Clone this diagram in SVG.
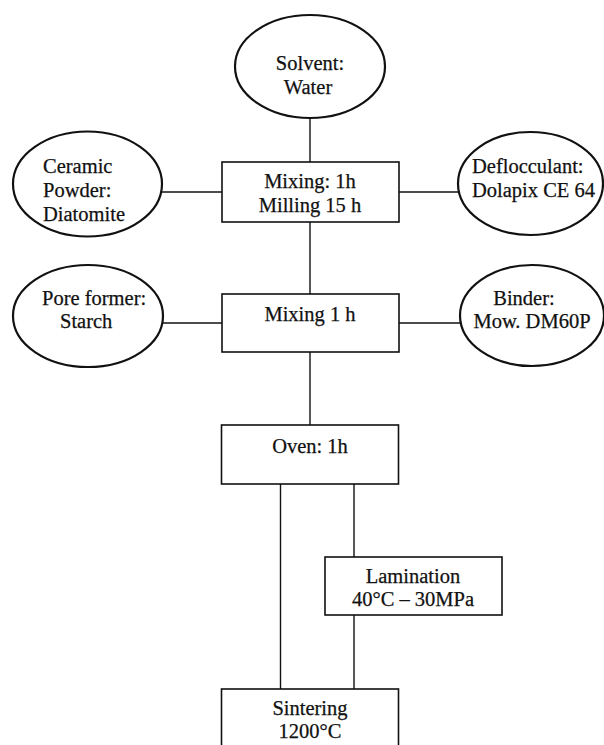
<svg xmlns="http://www.w3.org/2000/svg" width="604" height="745" viewBox="0 0 604 745">
<style>
.ell{fill:#fff;stroke:#111;stroke-width:2.2}
.box{fill:#fff;stroke:#111;stroke-width:1.6}
.ln{stroke:#111;stroke-width:1.4;fill:none}
text{font-family:"Liberation Serif","Times New Roman",serif;font-size:20.5px;fill:#111;stroke:#111;stroke-width:0.25}
.c{text-anchor:middle}
</style>
<rect width="604" height="745" fill="#fff"/>
<g id="connectors">
<line class="ln" x1="310" y1="118" x2="310" y2="162"/>
<line class="ln" x1="162" y1="192" x2="222" y2="192"/>
<line class="ln" x1="399" y1="192" x2="458" y2="192"/>
<line class="ln" x1="310" y1="222" x2="310" y2="294"/>
<line class="ln" x1="163" y1="323" x2="222" y2="323"/>
<line class="ln" x1="399" y1="323" x2="460" y2="323"/>
<line class="ln" x1="310" y1="352" x2="310" y2="425"/>
<line class="ln" x1="280.5" y1="484" x2="280.5" y2="689"/>
<line class="ln" x1="354" y1="484" x2="354" y2="557"/>
<line class="ln" x1="354" y1="615" x2="354" y2="689"/>
</g>
<g id="solvent">
<ellipse class="ell" cx="310" cy="66.5" rx="75" ry="51.5"/>
<text class="c" x="310" y="70">Solvent:</text>
<text class="c" x="308" y="94">Water</text>
</g>
<g id="ceramic">
<ellipse class="ell" cx="87.5" cy="184" rx="74.5" ry="52.5"/>
<text x="43" y="173">Ceramic</text>
<text x="43" y="197">Powder:</text>
<text x="43" y="221">Diatomite</text>
</g>
<g id="deflocculant">
<ellipse class="ell" cx="530.5" cy="183.5" rx="72.5" ry="51.5"/>
<text x="472" y="173">Deflocculant:</text>
<text x="472" y="197">Dolapix CE 64</text>
</g>
<g id="mixing1">
<rect class="box" x="222" y="162" width="177" height="60"/>
<text class="c" x="310" y="188">Mixing: 1h</text>
<text class="c" x="310" y="212">Milling 15 h</text>
</g>
<g id="pore">
<ellipse class="ell" cx="88" cy="316" rx="75" ry="51"/>
<text x="42" y="305">Pore former:</text>
<text x="60" y="328">Starch</text>
</g>
<g id="binder">
<ellipse class="ell" cx="532" cy="315.5" rx="72" ry="50.5"/>
<text class="c" x="524" y="305">Binder:</text>
<text class="c" x="532" y="328">Mow. DM60P</text>
</g>
<g id="mixing2">
<rect class="box" x="222" y="294" width="177" height="58"/>
<text class="c" x="310" y="321">Mixing 1 h</text>
</g>
<g id="oven">
<rect class="box" x="221.5" y="425" width="177" height="59"/>
<text class="c" x="310" y="453">Oven: 1h</text>
</g>
<g id="lamination">
<rect class="box" x="325" y="557" width="177" height="58"/>
<text class="c" x="413" y="583">Lamination</text>
<text class="c" x="413" y="606">40°C – 30MPa</text>
</g>
<g id="sintering">
<rect class="box" x="221.5" y="689" width="177" height="70"/>
<text class="c" x="310" y="715">Sintering</text>
<text class="c" x="310" y="738">1200°C</text>
</g>
</svg>
